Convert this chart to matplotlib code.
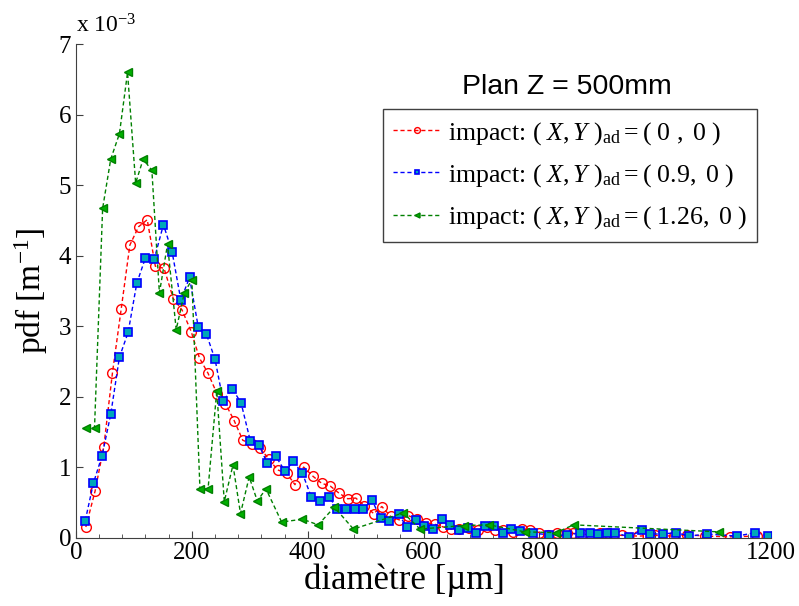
import numpy as np
import matplotlib
matplotlib.use('Agg')
import matplotlib.pyplot as plt
from matplotlib.ticker import MultipleLocator

plt.rcParams['font.family'] = ['Liberation Serif', 'DejaVu Serif']
plt.rcParams['mathtext.fontset'] = 'custom'
plt.rcParams['mathtext.rm'] = 'Liberation Serif'
plt.rcParams['mathtext.it'] = 'Liberation Serif:italic'

# impact (0, 0) -- pdf in units of 1e-3 m^-1
d_red = [17, 33, 48, 63, 78, 93, 108, 123, 137, 152, 168, 183, 199, 213, 228, 244, 258, 273,
         288, 303, 318, 333, 348, 364, 378, 393, 409, 424, 439, 454, 469, 483, 498, 514, 528,
         543, 558, 574, 588, 604, 619, 634, 648, 662, 679, 694, 709, 724, 738, 755, 770, 784,
         800, 815, 830, 847, 858, 873, 889, 904, 919, 942, 971, 1000, 1032, 1055, 1086, 1129, 1175]
p_red = [0.15, 0.66, 1.29, 2.34, 3.24, 4.15, 4.41, 4.51, 3.85, 3.82, 3.39, 3.23, 2.92, 2.55,
         2.33, 2.03, 1.90, 1.66, 1.38, 1.33, 1.27, 1.11, 0.96, 0.91, 0.75, 1.00, 0.87, 0.77,
         0.73, 0.63, 0.55, 0.56, 0.45, 0.34, 0.44, 0.30, 0.25, 0.31, 0.26, 0.21, 0.19, 0.15,
         0.12, 0.12, 0.13, 0.11, 0.15, 0.11, 0.11, 0.08, 0.12, 0.11, 0.07, 0.04, 0.06, 0.06,
         0.06, 0.05, 0.04, 0.06, 0.06, 0.03, 0.02, 0.03, 0.02, 0.04, 0.02, 0.01, 0.02]

# impact (0.9, 0)
d_blue = [16, 30, 45, 60, 75, 90, 105, 120, 135, 151, 166, 181, 196, 211, 225, 240, 254, 270,
          285, 301, 316, 330, 345, 361, 375, 391, 406, 421, 437, 450, 466, 481, 496, 511, 526,
          541, 557, 571, 587, 601, 616, 632, 646, 662, 676, 691, 706, 721, 737, 751, 767, 789,
          817, 848, 870, 887, 902, 916, 931, 954, 977, 991, 1013, 1036, 1059, 1089, 1141, 1173, 1195]
p_blue = [0.24, 0.77, 1.16, 1.75, 2.56, 2.91, 3.61, 3.97, 3.95, 4.44, 4.05, 3.37, 3.69, 2.99,
          2.89, 2.53, 1.94, 2.11, 1.91, 1.37, 1.31, 1.06, 1.15, 0.94, 1.08, 0.91, 0.58, 0.52,
          0.58, 0.41, 0.41, 0.41, 0.41, 0.53, 0.27, 0.24, 0.33, 0.15, 0.25, 0.16, 0.12, 0.26,
          0.18, 0.11, 0.14, 0.07, 0.16, 0.16, 0.07, 0.12, 0.09, 0.06, 0.04, 0.03, 0.07, 0.07,
          0.05, 0.07, 0.07, 0.01, 0.10, 0.05, 0.05, 0.07, 0.02, 0.05, 0.02, 0.07, 0.02]

# impact (1.26, 0)
d_green = [17, 32, 46, 60, 75, 89, 103, 116, 131, 144, 158, 173, 187, 200, 214, 228, 243, 256,
           271, 284, 299, 313, 328, 355, 391, 418, 446, 479, 565, 594, 669, 713, 775, 829, 859, 1110]
p_green = [1.56, 1.56, 4.67, 5.37, 5.73, 6.60, 5.03, 5.37, 5.21, 3.47, 4.16, 2.95, 3.47, 3.66,
           0.69, 0.69, 2.08, 0.51, 1.03, 0.34, 0.86, 0.52, 0.69, 0.22, 0.26, 0.18, 0.43, 0.12,
           0.35, 0.12, 0.17, 0.18, 0.08, 0.07, 0.18, 0.08]

labels = [r'impact: $(\ X,Y\ )_{\mathrm{ad}} = (\ 0\ ,\ 0\ )$',
          r'impact: $(\ X,Y\ )_{\mathrm{ad}} = (\ 0.9,\ 0\ )$',
          r'impact: $(\ X,Y\ )_{\mathrm{ad}} = (\ 1.26,\ 0\ )$']

fig = plt.figure(figsize=(7.99, 6.06), dpi=100)
ax = fig.add_axes([0.0951, 0.113, 0.870, 0.814])

dash = (0, (3, 2))
ax.plot(d_red, p_red, color='#ff0000', linestyle=dash, linewidth=1, marker='o', ms=7,
        mfc='none', mec='#ff0000', mew=1, label=labels[0])
ax.plot(d_blue, p_blue, color='#0000ff', linestyle=dash, linewidth=1, marker='s', ms=5.5,
        mfc='#00a8b8', mec='#0000ff', mew=1.2, label=labels[1])
ax.plot(d_green, p_green, color='#008000', linestyle=dash, linewidth=1, marker='<', ms=6,
        mfc='#00b000', mec='#008000', mew=1, label=labels[2])

ax.set_xlim(0, 1200)
ax.set_ylim(0, 7)
ax.xaxis.set_major_locator(MultipleLocator(200))
ax.xaxis.set_minor_locator(MultipleLocator(40))
ax.yaxis.set_major_locator(MultipleLocator(1))
ax.tick_params(direction='in', labelsize=18, length=5, color='#404040')
ax.tick_params(which='minor', direction='in', length=3, color='#404040')
for s in ['top', 'right']:
    ax.spines[s].set_visible(False)
for s in ['left', 'bottom']:
    ax.spines[s].set_color('#404040')

ax.set_xlabel('diamètre [µm]', fontsize=25, labelpad=2)
ax.xaxis.set_label_coords(0.472, -0.052, transform=ax.transAxes)
ax.xaxis.label.set_va('top')
ax.set_ylabel(r'pdf [m$^{\mathrm{-1}}$]', fontsize=24, labelpad=6)
ax.text(0.0, 1.014, r'x 10$^{\mathrm{-3}}$', transform=ax.transAxes, fontsize=17,
        ha='left', va='bottom')

ax.text(0.706, 0.913, 'Plan Z = 500mm', transform=ax.transAxes, fontsize=20.5,
        family='Liberation Sans', ha='center', va='center')
leg = ax.legend(loc='upper right', bbox_to_anchor=(0.980, 0.868), fontsize=18.6,
                handlelength=1.8, handletextpad=0.3, markerscale=0.6, fancybox=False,
                framealpha=1, edgecolor='#404040', borderpad=0.4, labelspacing=0.6,
                borderaxespad=0)
leg.get_frame().set_linewidth(1)

fig.savefig('out.png', dpi=100)
